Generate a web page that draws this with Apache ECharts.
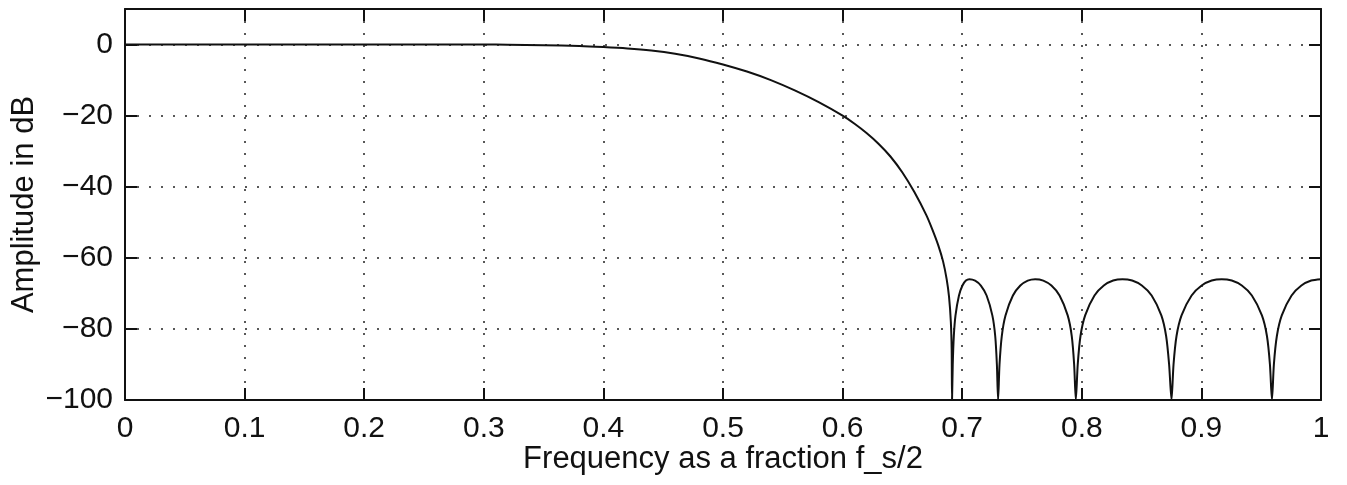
<!DOCTYPE html>
<html>
<head>
<meta charset="utf-8">
<title>Amplitude response</title>
<script src="https://cdn.jsdelivr.net/npm/echarts@6/dist/echarts.min.js"></script>
<style>
  html, body { margin: 0; padding: 0; background: #fff; }
  #chart { width: 1347px; height: 485px; }
</style>
</head>
<body>
<div id="chart"></div>
<script>
// x ticks (fraction of f_s/2) and y ticks (dB)
const xTicks = [0, 0.1, 0.2, 0.3, 0.4, 0.5, 0.6, 0.7, 0.8, 0.9, 1]
const yTicks = [0, -20, -40, -60, -80, -100]

// passband + transition band
const freqPass = [0, 0.05, 0.1, 0.15, 0.2, 0.25, 0.3, 0.32, 0.35, 0.38, 0.4, 0.42, 0.44, 0.46, 0.48,
  0.5, 0.52, 0.54, 0.56, 0.58, 0.6, 0.61, 0.62, 0.63, 0.64, 0.65, 0.66, 0.67, 0.675, 0.68, 0.684,
  0.687, 0.689, 0.6905, 0.6912, 0.6915]
const ampPass = [0, 0, 0, 0, 0, 0, 0, -0.05, -0.2, -0.4, -0.7, -1.1, -1.7, -2.6, -3.9,
  -5.6, -7.6, -10.0, -12.9, -16.2, -20.0, -22.3, -24.9, -27.9, -31.5, -36.0, -41.5, -48.0, -52.0, -56.5, -61.0,
  -66.0, -71.0, -78.0, -86.0, -100]

// stopband ripples (nulls clipped at -100)
const freqStop = [
  0.6921, 0.6930, 0.6944, 0.6973, 0.7002, 0.7031, 0.706, 0.7108, 0.7156, 0.7204, 0.7252, 0.7276, 0.729, 0.730,
  0.7312, 0.7331, 0.7362, 0.7424, 0.7486, 0.7548, 0.761, 0.7678, 0.7746, 0.7814, 0.7882, 0.7916, 0.7936, 0.795,
  0.7966, 0.7989, 0.8028, 0.8106, 0.8184, 0.8262, 0.834, 0.8421, 0.8502, 0.8584, 0.8665, 0.8705, 0.873, 0.875,
  0.8767, 0.8792, 0.8834, 0.8918, 0.9002, 0.9086, 0.917, 0.9254, 0.9338, 0.9422, 0.9506, 0.9548, 0.9573, 0.959,
  0.9606, 0.9631, 0.9672, 0.9754, 0.9836, 0.9918, 1.0]
const ampStop = [
  -90, -82, -76.2, -70.6, -67.8, -66.4, -66, -66.4, -67.8, -70.6, -76.2, -82, -90, -100,
  -90, -82, -76.2, -70.6, -67.8, -66.4, -66, -66.4, -67.8, -70.6, -76.2, -82, -90, -100,
  -90, -82, -76.2, -70.6, -67.8, -66.4, -66, -66.4, -67.8, -70.6, -76.2, -82, -90, -100,
  -90, -82, -76.2, -70.6, -67.8, -66.4, -66, -66.4, -67.8, -70.6, -76.2, -82, -90, -100,
  -90, -82, -76.2, -70.6, -67.8, -66.4, -66]

const freq = freqPass.concat(freqStop)
const ampDb = ampPass.concat(ampStop)

const FONT = '"Liberation Sans", Arial, Helvetica, sans-serif'
const INK = '#111'

const fmtY = v => (yTicks.includes(v) ? (v < 0 ? '\u2212' + Math.abs(v) : String(v)) : '')
const fmtX = v => {
  const t = xTicks.find(k => Math.abs(k - v) < 1e-9)
  return t === undefined ? '' : String(t)
}

const dotted = { color: '#222', width: 1.5, type: [2, 10] }

const chart = echarts.init(document.getElementById('chart'), null, { renderer: 'canvas' })

chart.setOption({
  backgroundColor: '#fff',
  animation: false,
  grid: { left: 125, right: 26, top: 9, bottom: 85, outerBoundsMode: 'none' },
  xAxis: [
    {
      type: 'value', min: 0, max: 1, interval: 0.1, position: 'bottom',
      name: 'Frequency as a fraction f_s/2', nameLocation: 'middle', nameGap: 44,
      nameMoveOverlap: false,
      nameTextStyle: { fontFamily: FONT, fontSize: 31, color: INK },
      axisLine: { show: true, onZero: false, lineStyle: { color: INK, width: 2 } },
      axisTick: { show: true, inside: true, length: 12, lineStyle: { color: INK, width: 2 } },
      axisLabel: { formatter: fmtX, fontFamily: FONT, fontSize: 30, color: INK, margin: 14 },
      splitLine: { show: true, lineStyle: dotted }
    },
    {
      type: 'value', min: 0, max: 1, interval: 0.1, position: 'top',
      axisLine: { show: true, onZero: false, lineStyle: { color: INK, width: 2 } },
      axisTick: { show: true, inside: true, length: 12, lineStyle: { color: INK, width: 2 } },
      axisLabel: { show: false },
      splitLine: { show: false }
    }
  ],
  yAxis: [
    {
      type: 'value', min: -100, max: 10, interval: 20, position: 'left',
      name: 'Amplitude in dB', nameLocation: 'middle', nameGap: 85,
      nameMoveOverlap: false,
      nameTextStyle: { fontFamily: FONT, fontSize: 31, color: INK },
      axisLine: { show: true, onZero: false, lineStyle: { color: INK, width: 2 } },
      axisTick: { show: true, inside: true, length: 12, lineStyle: { color: INK, width: 2 } },
      axisLabel: { formatter: fmtY, fontFamily: FONT, fontSize: 30, color: INK, margin: 12 },
      splitLine: { show: true, lineStyle: dotted }
    },
    {
      type: 'value', min: -100, max: 10, interval: 20, position: 'right',
      axisLine: { show: true, onZero: false, lineStyle: { color: INK, width: 2 } },
      axisTick: { show: true, inside: true, length: 12, lineStyle: { color: INK, width: 2 } },
      axisLabel: { show: false },
      splitLine: { show: false }
    }
  ],
  series: [
    {
      type: 'line',
      xAxisIndex: 0,
      yAxisIndex: 0,
      data: freq.map((f, i) => [f, ampDb[i]]),
      showSymbol: false,
      smooth: 0.25,
      lineStyle: { color: INK, width: 2 }
    }
  ]
})

window.addEventListener('resize', () => chart.resize())
</script>
</body>
</html>
